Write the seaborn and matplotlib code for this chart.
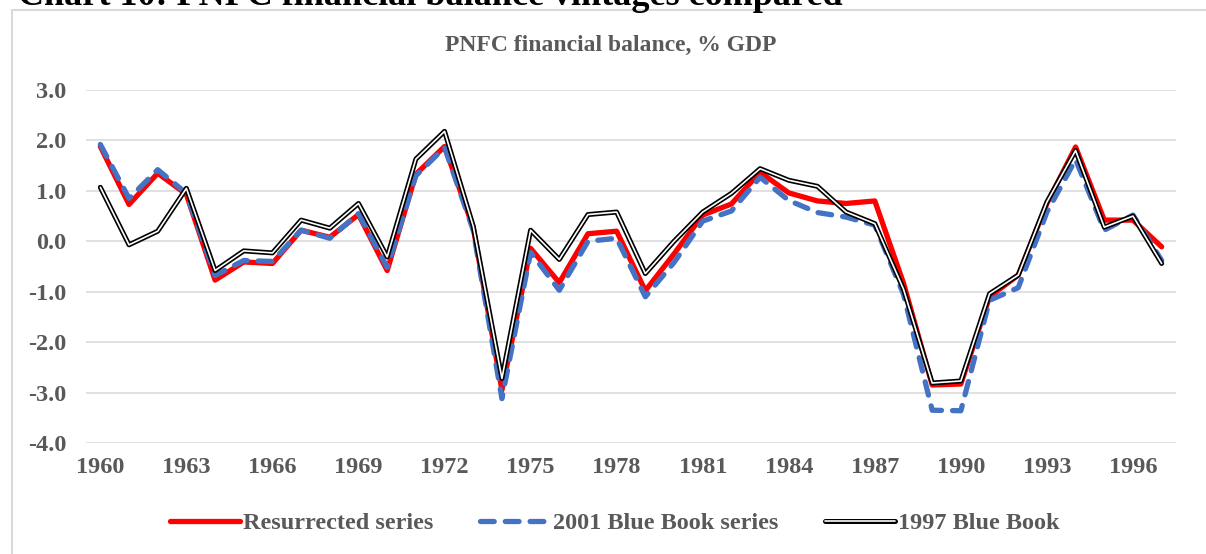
import numpy as np
import pandas as pd
import seaborn as sns
import matplotlib.pyplot as plt
import matplotlib.patheffects as pe
from matplotlib.patches import Rectangle

# data (% of GDP)
years = list(range(1960, 1998))
resurrected = [1.88, 0.73, 1.35, 0.93, -0.77, -0.41, -0.44, 0.22, 0.08, 0.53,
               -0.58, 1.33, 1.88, 0.27, -2.95, -0.14, -0.82, 0.15, 0.20, -0.98,
               -0.25, 0.52, 0.74, 1.37, 0.96, 0.80, 0.75, 0.80, -0.83, -2.85,
               -2.83, -1.10, -0.67, 0.75, 1.87, 0.42, 0.42, -0.11]
bb2001 = [1.92, 0.85, 1.42, 0.95, -0.68, -0.38, -0.40, 0.22, 0.06, 0.55,
          -0.52, 1.30, 1.86, 0.22, -3.12, -0.22, -0.97, 0.00, 0.06, -1.10,
          -0.42, 0.40, 0.60, 1.27, 0.81, 0.57, 0.48, 0.32, -1.05, -3.35,
          -3.36, -1.17, -0.92, 0.58, 1.62, 0.22, 0.52, -0.38]
bb1997 = [1.07, -0.07, 0.20, 1.05, -0.58, -0.19, -0.23, 0.42, 0.26, 0.75,
          -0.31, 1.63, 2.18, 0.30, -2.72, 0.22, -0.36, 0.53, 0.58, -0.64,
          0.00, 0.58, 0.95, 1.44, 1.21, 1.09, 0.58, 0.35, -0.95, -2.81,
          -2.77, -1.04, -0.67, 0.78, 1.80, 0.28, 0.50, -0.44]
labels = ["Resurrected series", "2001 Blue Book series", "1997 Blue Book"]
xticks = list(range(1960, 1997, 3))
yticks = [3.0, 2.0, 1.0, 0.0, -1.0, -2.0, -3.0, -4.0]

df = pd.DataFrame({"year": years, "res": resurrected,
                   "bb01": bb2001, "bb97": bb1997})

sns.set_style("white")
plt.rcParams["font.family"] = ["Liberation Serif", "DejaVu Serif"]
plt.rcParams["font.weight"] = "bold"
grey = "#595959"
fs = 17.5

fig = plt.figure(figsize=(12.06, 5.54), dpi=100)
ax = fig.add_axes([86 / 1206, 1 - 443 / 554, 1090 / 1206, 353 / 554])

sns.lineplot(data=df, x="year", y="res", ax=ax, color="#ff0000", lw=3.8,
             label=labels[0])
sns.lineplot(data=df, x="year", y="bb01", ax=ax, color="#4472c4", lw=3.8,
             label=labels[1], dashes=False)
ax.lines[-1].set_linestyle((0, (2.6, 2.1)))
ax.lines[-1].set_dash_capstyle("round")
sns.lineplot(data=df, x="year", y="bb97", ax=ax, color="white", lw=1.2,
             label=labels[2])
ax.lines[-1].set_path_effects([pe.Stroke(linewidth=3.6, foreground="black"),
                               pe.Normal()])

ax.set_xlim(1959.5, 1997.5)
ax.set_ylim(-4, 3)
ax.set_xticks(xticks)
ax.set_xticklabels([str(y) for y in xticks])
ax.set_yticks(yticks)
ax.set_yticklabels([f"{v:.1f}" for v in yticks])
ax.grid(axis="y", color="#d9d9d9", lw=1.1)
ax.set_axisbelow(True)
for s in ax.spines.values():
    s.set_visible(False)
ax.tick_params(axis="both", length=0, labelsize=fs, labelcolor=grey)
ax.tick_params(axis="y", pad=14)
ax.tick_params(axis="x", pad=10)
ax.set_xlabel("")
ax.set_ylabel("")

leg = ax.legend(loc="lower center", bbox_to_anchor=(0.485, -0.32), ncol=3,
                frameon=False, fontsize=fs, handlelength=2.9,
                handletextpad=0.12, columnspacing=1.9)
for t in leg.get_texts():
    t.set_color(grey)

fig.text(611 / 1206, 1 - 45 / 554, "PNFC financial balance, % GDP",
         ha="center", va="center", fontsize=17, color=grey, weight="bold")
# heading of the page, mostly cut off at the top
fig.text(18 / 1206, 1 - 5 / 554,
         "Chart 10: PNFC financial balance vintages compared",
         ha="left", va="baseline", fontsize=26, color="black", weight="bold")

fig.patches.append(Rectangle((12 / 1206, -0.05), 1.1, 1 - 10 / 554 + 0.05,
                             transform=fig.transFigure, fill=False,
                             edgecolor="#d9d9d9", lw=1.5))

fig.savefig("out.png", dpi=100)
